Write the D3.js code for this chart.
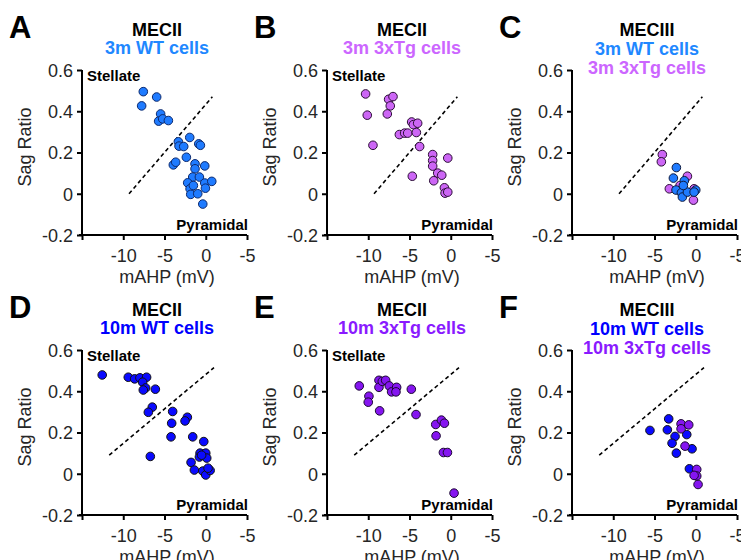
<!DOCTYPE html>
<html>
<head>
<meta charset="utf-8">
<script src="https://cdn.jsdelivr.net/npm/d3@7"></script>
<style>
  body { margin: 0; background: #fff; }
  svg { font-family: "Liberation Sans", Arial, sans-serif; }
</style>
</head>
<body>
<svg></svg>
<script>
// axis ticks (the reference labels the +5 tick as "-5")
const xTicks = [-15, -10, -5, 0, 5];
const xTickLabels = ["", "-10", "-5", "0", "-5"];
const yTicks = [-0.2, 0, 0.2, 0.4, 0.6];
const yTickLabels = ["-0.2", "0", "0.2", "0.4", "0.6"];

// A: MECII 3m WT
const a_mahp = [-7.57, -7.77, -5.95, -5.47, -5.71, -5.22, -4.53, -3.32, -3.24, -2.67, -1.94, -0.85, -0.65, -2.35, -3.93, -3.64, -1.30, -1.30, -0.12, -1.58, -0.77, -2.19, -1.90, -1.82, -0.97, -0.12, -0.04, 0.73, -0.36, -1.5];
const a_sag = [0.495, 0.426, 0.469, 0.387, 0.352, 0.363, 0.355, 0.252, 0.231, 0.229, 0.273, 0.242, 0.235, 0.177, 0.140, 0.153, 0.145, 0.121, 0.135, 0.081, 0.081, 0.053, 0.024, -0.003, 0.000, 0.052, 0.027, 0.060, -0.050, 0.04];

// B: MECII 3m 3xTg
const b_mahp = [-10.32, -10.12, -9.43, -7.53, -7.00, -7.33, -7.69, -6.23, -5.59, -5.22, -4.74, -4.53, -4.01, -4.17, -3.77, -4.66, -2.19, -2.19, -2.19, -0.36, -1.58, -1.09, -2.06, -0.77, -0.69, -0.36];
const b_sag = [0.484, 0.381, 0.235, 0.458, 0.471, 0.426, 0.387, 0.287, 0.294, 0.294, 0.348, 0.335, 0.342, 0.297, 0.229, 0.085, 0.190, 0.161, 0.134, 0.173, 0.100, 0.090, 0.063, 0.029, 0.003, 0.008];

// C: MECIII 3m WT + 3m 3xTg
const c_tg_mahp = [-4.05, -4.17, -3.20, -1.01, -0.28, -1.9, -0.2];
const c_tg_sag = [0.190, 0.155, 0.024, 0.085, -0.031, 0.04, 0.024];
const c_wt_mahp = [-2.35, -2.71, -1.38, -2.39, -1.74, -1.62, -1.01, 0.0, -0.2, -1.5];
const c_wt_sag = [0.127, 0.076, 0.063, 0.018, 0.005, -0.016, 0.008, 0.018, 0.008, 0.04];

// D: MECII 10m WT
const d_mahp = [-12.55, -9.39, -8.62, -7.98, -7.17, -7.65, -7.29, -7.57, -6.11, -6.48, -6.96, -6.72, -4.01, -4.13, -4.21, -2.23, -2.51, -1.58, -0.24, -0.69, -0.77, 0.0, 0.12, -1.78, -1.38, -0.36, 0.0, 0.53, 0.28, -0.5];
const d_sag = [0.479, 0.468, 0.460, 0.465, 0.468, 0.444, 0.416, 0.406, 0.410, 0.323, 0.298, 0.084, 0.302, 0.245, 0.179, 0.274, 0.256, 0.179, 0.156, 0.100, 0.081, 0.100, 0.076, 0.055, 0.018, 0.013, -0.006, 0.016, 0.027, 0.09];

// E: MECII 10m 3xTg
const e_mahp = [-11.09, -9.92, -10.0, -8.62, -8.70, -8.70, -8.30, -7.89, -7.45, -7.17, -6.56, -6.64, -4.78, -4.21, -1.82, -1.13, -0.77, -1.78, -0.89, -0.40, 0.40];
const e_sag = [0.426, 0.376, 0.347, 0.305, 0.453, 0.419, 0.448, 0.453, 0.426, 0.397, 0.419, 0.397, 0.410, 0.287, 0.239, 0.260, 0.245, 0.184, 0.103, 0.103, -0.094];

// F: MECIII 10m WT + 10m 3xTg
const f_wt_mahp = [-5.55, -3.28, -3.44, -2.51, -2.87, -2.35, -1.09, -0.45, -0.77];
const f_wt_sag = [0.210, 0.266, 0.213, 0.181, 0.148, 0.100, 0.190, 0.121, 0.024];
const f_tg_mahp = [-1.78, -1.78, -0.85, -1.30, 0.12, 0.12, 0.28, -0.2];
const f_tg_sag = [0.242, 0.218, 0.237, 0.134, 0.021, -0.011, -0.052, -0.008];

// dashed separation lines [x1, y1, x2, y2]
const guide3m = [-9.3, 0, 0.8, 0.47];
const guide10m = [-11.7, 0.09, 1.0, 0.515];

const col3wt = "#1f7bff", col3tg = "#cc66f5", col10wt = "#0a0aff", col10tg = "#8515f0";
const txt3wt = "#1f88ff", txt3tg = "#cc66ff", txt10wt = "#0000ff", txt10tg = "#8a1aff";

const svg = d3.select("svg").attr("width", 741).attr("height", 560);

const zip = (xs, ys) => xs.map((v, i) => [v, ys[i]]);

const panels = [
  { col: 0, row: 0, letter: "A", stellate: true, titles: [["MECII", "#000"], ["3m WT cells", txt3wt]],
    series: [{ pts: zip(a_mahp, a_sag), fill: col3wt, stroke: "#0d2a6e" }], guide: guide3m },
  { col: 1, row: 0, letter: "B", stellate: true, titles: [["MECII", "#000"], ["3m 3xTg cells", txt3tg]],
    series: [{ pts: zip(b_mahp, b_sag), fill: col3tg, stroke: "#2a0d35" }], guide: guide3m },
  { col: 2, row: 0, letter: "C", stellate: false, titles: [["MECIII", "#000"], ["3m WT cells", txt3wt], ["3m 3xTg cells", txt3tg]],
    series: [{ pts: zip(c_tg_mahp, c_tg_sag), fill: col3tg, stroke: "#2a0d35" },
             { pts: zip(c_wt_mahp, c_wt_sag), fill: col3wt, stroke: "#0d1a40" }], guide: guide3m },
  { col: 0, row: 1, letter: "D", stellate: true, titles: [["MECII", "#000"], ["10m WT cells", txt10wt]],
    series: [{ pts: zip(d_mahp, d_sag), fill: col10wt, stroke: "#111" }], guide: guide10m },
  { col: 1, row: 1, letter: "E", stellate: true, titles: [["MECII", "#000"], ["10m 3xTg cells", txt10tg]],
    series: [{ pts: zip(e_mahp, e_sag), fill: col10tg, stroke: "#1a0830" }], guide: guide10m },
  { col: 2, row: 1, letter: "F", stellate: false, titles: [["MECIII", "#000"], ["10m WT cells", txt10wt], ["10m 3xTg cells", txt10tg]],
    series: [{ pts: zip(f_wt_mahp, f_wt_sag), fill: col10wt, stroke: "#111" },
             { pts: zip(f_tg_mahp, f_tg_sag), fill: col10tg, stroke: "#1a0830" }], guide: guide10m }
];

panels.forEach(p => {
  const ox = p.col * 245, oy = p.row * 280;
  const g = svg.append("g");
  const x = d3.scaleLinear().domain([-15, 5]).range([ox + 82, ox + 247]);
  const y = d3.scaleLinear().domain([-0.2, 0.6]).range([oy + 235, oy + 70]);

  // letter
  g.append("text").attr("x", ox + 9).attr("y", oy + 38)
    .attr("font-size", 31).attr("font-weight", "bold").text(p.letter);

  // titles
  const step = p.titles.length > 2 ? 19 : 18;
  p.titles.forEach((t, i) => {
    g.append("text").attr("x", ox + 157).attr("y", oy + 35.5 + i * step)
      .attr("text-anchor", "middle").attr("font-size", 18).attr("font-weight", "bold")
      .attr("fill", t[1]).text(t[0]);
  });

  // axes
  const xAxis = d3.axisBottom(x).tickValues(xTicks).tickSize(5).tickSizeOuter(0)
    .tickFormat((d, i) => xTickLabels[i]);
  const yAxis = d3.axisLeft(y).tickValues(yTicks).tickSize(5).tickSizeOuter(0)
    .tickFormat((d, i) => yTickLabels[i]);

  const gx = g.append("g").attr("transform", `translate(0,${oy + 235})`).call(xAxis);
  const gy = g.append("g").attr("transform", `translate(${ox + 82},0)`).call(yAxis);
  [gx, gy].forEach(a => {
    a.select(".domain").attr("stroke", "#000").attr("stroke-width", 2);
    a.selectAll(".tick line").attr("stroke", "#000").attr("stroke-width", 2);
    a.selectAll(".tick text").attr("fill", "#262626").attr("font-size", 18)
      .attr("font-family", "Liberation Sans, Arial, sans-serif");
  });
  gx.select(".domain").attr("d", `M${ox + 79},0H${ox + 247}`);
  gx.selectAll(".tick text").attr("dy", null).attr("y", 27);
  gy.select(".domain").attr("d", `M0,${oy + 70}V${oy + 236}`);
  gy.selectAll(".tick text").attr("x", -9).attr("dy", "0.35em");

  // axis labels
  g.append("text").attr("x", ox + 167).attr("y", oy + 283)
    .attr("text-anchor", "middle").attr("font-size", 18).attr("fill", "#262626").text("mAHP (mV)");
  g.append("text").attr("transform", `translate(${ox + 31},${oy + 147}) rotate(-90)`)
    .attr("text-anchor", "middle").attr("font-size", 18).attr("fill", "#262626").text("Sag Ratio");

  // corner labels
  if (p.stellate) {
    g.append("text").attr("x", ox + 87).attr("y", oy + 81)
      .attr("font-size", 15).attr("font-weight", "bold").text("Stellate");
  }
  g.append("text").attr("x", ox + 248).attr("y", oy + 230).attr("text-anchor", "end")
    .attr("font-size", 15).attr("font-weight", "bold").text("Pyramidal");

  // dashed guide
  g.append("line")
    .attr("x1", x(p.guide[0])).attr("y1", y(p.guide[1]))
    .attr("x2", x(p.guide[2])).attr("y2", y(p.guide[3]))
    .attr("stroke", "#000").attr("stroke-width", 1.6).attr("stroke-dasharray", "4,3");

  // dots
  p.series.forEach(s => {
    g.append("g").selectAll("circle").data(s.pts).enter().append("circle")
      .attr("cx", d => x(d[0])).attr("cy", d => y(d[1])).attr("r", 4.3)
      .attr("fill", s.fill).attr("stroke", s.stroke).attr("stroke-width", 1);
  });
});
</script>
</body>
</html>
